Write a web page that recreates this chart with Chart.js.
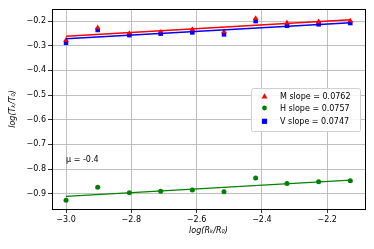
<!DOCTYPE html>
<html>
<head>
<meta charset="utf-8">
<script src="https://cdn.jsdelivr.net/npm/chart.js@4/dist/chart.umd.min.js"></script>
<style>
  html, body { margin: 0; padding: 0; background: #fff; }
  #wrap { width: 374px; height: 249px; }
</style>
</head>
<body>
<div id="wrap"><canvas id="chart" width="374" height="249"></canvas></div>
<script>
// log(R_k/R_0) values
const xValues = [-3.0, -2.903, -2.806, -2.71, -2.613, -2.516, -2.419, -2.323, -2.226, -2.129];
// log(T_k/T_0) per direction
const mValues = [-0.277, -0.227, -0.25, -0.245, -0.234, -0.243, -0.189, -0.207, -0.203, -0.199];
const hValues = [-0.927, -0.874, -0.896, -0.89, -0.885, -0.892, -0.836, -0.859, -0.851, -0.847];
const vValues = [-0.288, -0.236, -0.257, -0.251, -0.246, -0.254, -0.2, -0.219, -0.213, -0.208];
// fitted lines, end points
const fitX = [-3.0, -2.129];
const mFit = [-0.261, -0.195];
const hFit = [-0.911, -0.845];
const vFit = [-0.272, -0.207];
const labels = ['M slope = 0.0762', 'H slope = 0.0757', 'V slope = 0.0747'];
const xTicks = [-3.0, -2.8, -2.6, -2.4, -2.2];
const yTicks = [-0.9, -0.8, -0.7, -0.6, -0.5, -0.4, -0.3, -0.2];
const note = 'μ = -0.4';

const RED = '#ff0000', GREEN = '#008000', BLUE = '#0000ff';
const FONT = 'DejaVu Sans';

const pts = (ys, xs = xValues) => ys.map((y, i) => ({ x: xs[i], y }));
const minus = (v) => v.toFixed(1).replace('-', '\u2212');

const frame = {
  id: 'frame',
  afterDraw(chart) {
    const { ctx, chartArea: a } = chart;
    ctx.save();
    ctx.strokeStyle = '#000';
    ctx.lineWidth = 1;
    ctx.strokeRect(Math.round(a.left) + 0.5, Math.round(a.top) + 0.5,
      Math.round(a.right - a.left), Math.round(a.bottom - a.top));

    // annotation
    const xs = chart.scales.x, ys = chart.scales.y;
    ctx.fillStyle = '#000';
    ctx.font = `8px ${FONT}`;
    ctx.textBaseline = 'middle';
    ctx.textAlign = 'left';
    ctx.fillText(note, xs.getPixelForValue(-3.0), ys.getPixelForValue(-0.761));

    // legend
    const bx = 251, by = 88, bw = 109, bh = 43;
    ctx.fillStyle = 'rgba(255,255,255,0.85)';
    ctx.strokeStyle = '#d0d0d0';
    ctx.beginPath();
    ctx.roundRect(bx + 0.5, by + 0.5, bw, bh, 2);
    ctx.fill();
    ctx.stroke();
    const rows = [96.3, 108, 121.3];
    const colors = [RED, GREEN, BLUE];
    rows.forEach((ry, i) => {
      const mx = 264.5;
      ctx.fillStyle = colors[i];
      ctx.beginPath();
      if (i === 0) {
        ctx.moveTo(mx, ry - 3); ctx.lineTo(mx + 3, ry + 2.2); ctx.lineTo(mx - 3, ry + 2.2); ctx.closePath();
      } else if (i === 1) {
        ctx.arc(mx, ry, 2.4, 0, Math.PI * 2);
      } else {
        ctx.rect(mx - 2.6, ry - 2.6, 5.2, 5.2);
      }
      ctx.fill();
      ctx.fillStyle = '#000';
      ctx.font = `8px ${FONT}`;
      ctx.fillText(labels[i], 280, ry + 0.5);
    });
    ctx.restore();
  },
};

new Chart(document.getElementById('chart'), {
  type: 'scatter',
  data: {
    datasets: [
      { label: 'M fit', data: pts(mFit, fitX), showLine: true, borderColor: RED, borderWidth: 1.5, pointRadius: 0 },
      { label: 'V fit', data: pts(vFit, fitX), showLine: true, borderColor: BLUE, borderWidth: 1.5, pointRadius: 0 },
      { label: 'H fit', data: pts(hFit, fitX), showLine: true, borderColor: GREEN, borderWidth: 1.3, pointRadius: 0 },
      { label: labels[0], data: pts(mValues), pointStyle: 'triangle', pointRadius: 3.2, backgroundColor: RED, borderColor: RED, borderWidth: 0 },
      { label: labels[1], data: pts(hValues), pointStyle: 'circle', pointRadius: 2.5, backgroundColor: GREEN, borderColor: GREEN, borderWidth: 0 },
      { label: labels[2], data: pts(vValues), pointStyle: 'rect', pointRadius: 3.2, backgroundColor: BLUE, borderColor: BLUE, borderWidth: 0 },
    ],
  },
  options: {
    responsive: false,
    animation: false,
    layout: { padding: { top: 9, right: 9, left: 0, bottom: 0 } },
    plugins: { legend: { display: false }, tooltip: { enabled: false } },
    scales: {
      x: {
        type: 'linear',
        min: -3.043,
        max: -2.084,
        afterBuildTicks: (s) => { s.ticks = xTicks.map((v) => ({ value: v })); },
        afterFit: (s) => { s.height = 40; },
        ticks: { color: '#000', font: { family: FONT, size: 8 }, padding: 2, maxRotation: 0, callback: (v) => minus(v) },
        grid: { color: '#b0b0b0', lineWidth: 0.8, tickLength: 4, tickColor: '#000' },
        border: { display: false },
        title: { display: true, text: 'log(R\u2096/R\u2080)', color: '#000', font: { family: FONT, size: 8, style: 'italic' }, padding: { top: 1, bottom: 13 } },
      },
      y: {
        type: 'linear',
        min: -0.962,
        max: -0.151,
        afterBuildTicks: (s) => { s.ticks = yTicks.map((v) => ({ value: v })); },
        afterFit: (s) => { s.width = 52; },
        ticks: { color: '#000', font: { family: FONT, size: 8 }, padding: 2, callback: (v) => minus(v) },
        grid: { color: '#b0b0b0', lineWidth: 0.8, tickLength: 4, tickColor: '#000' },
        border: { display: false },
        title: { display: true, text: 'log(T\u2096/T\u2080)', color: '#000', font: { family: FONT, size: 8, style: 'italic' }, padding: { top: 8, bottom: 0 } },
      },
    },
  },
  plugins: [frame],
});
</script>
</body>
</html>
